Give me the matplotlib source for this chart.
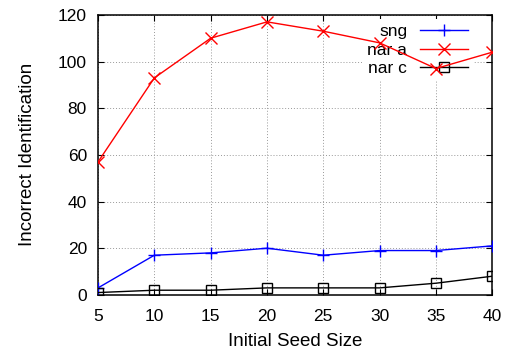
import matplotlib
matplotlib.use("Agg")
import matplotlib.pyplot as plt

plt.rcParams["font.family"] = ["Liberation Sans", "DejaVu Sans"]

seed_size = [5, 10, 15, 20, 25, 30, 35, 40]
sng = [3, 17, 18, 20, 17, 19, 19, 21]
nar_a = [57, 93, 110, 117, 113, 108, 97, 104]
nar_c = [1, 2, 2, 3, 3, 3, 5, 8]
x_ticks = [5, 10, 15, 20, 25, 30, 35, 40]
y_ticks = [0, 20, 40, 60, 80, 100, 120]

fig = plt.figure(figsize=(5.08, 3.54), dpi=100)
ax = fig.add_axes([0.193, 0.167, 0.776, 0.791])

ax.plot(seed_size, sng, color="#0000ff", marker="+", markersize=8, lw=1,
        label="sng", zorder=3)
ax.plot(seed_size, nar_a, color="#ff0000", marker="x", markersize=8, lw=1,
        label="nar a", zorder=3)
ax.plot(seed_size, nar_c, color="black", marker="s", markersize=6.5, lw=1,
        markerfacecolor="none", label="nar c", zorder=3)

ax.set_xlim(5, 40)
ax.set_ylim(0, 120)
ax.set_xticks(x_ticks)
ax.set_yticks(y_ticks)
ax.tick_params(direction="in", top=True, right=True, labelsize=12.5,
               length=4, pad=8)
ax.tick_params(axis="x", pad=10)
ax.grid(True, color="#999999", linestyle=(0, (1, 2)), linewidth=0.7, zorder=1)
ax.set_axisbelow(True)
for s in ax.spines.values():
    s.set_linewidth(1.1)

ax.set_xlabel("Initial Seed Size", fontsize=13.5, labelpad=7)
ax.set_ylabel("Incorrect Identification", fontsize=13.5, labelpad=16)

leg = ax.legend(loc="upper right", bbox_to_anchor=(0.952, 0.985),
                markerfirst=False, frameon=True, fontsize=12.5,
                handlelength=2.8, labelspacing=0.18, borderaxespad=0,
                handletextpad=0.7, borderpad=0.3)
leg.get_frame().set_facecolor("white")
leg.get_frame().set_edgecolor("none")
leg.get_frame().set_alpha(1)
leg.set_zorder(2.5)

fig.savefig("out.png", dpi=100)
